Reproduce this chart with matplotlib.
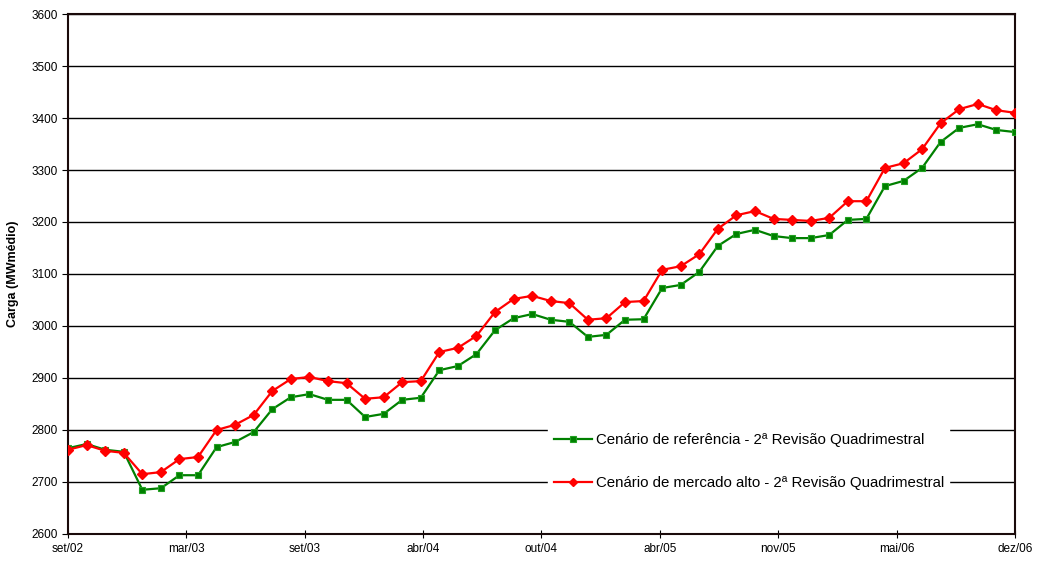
import matplotlib
matplotlib.use("Agg")
from matplotlib import pyplot as plt
import numpy as np

plt.rcParams['font.family'] = ['Liberation Sans', 'DejaVu Sans']

# months set/02 .. dez/06 (52 points)
n_months = 52
months = np.arange(n_months)

# tick labels on the category axis
tick_labels = ["set/02", "mar/03", "set/03", "abr/04", "out/04",
               "abr/05", "nov/05", "mai/06", "dez/06"]

# Cenário de referência
referencia = [2765, 2773, 2762, 2758, 2685, 2688, 2713, 2713, 2767, 2777,
              2796, 2840, 2863, 2869, 2858, 2858, 2825, 2831, 2858, 2862,
              2915, 2923, 2946, 2992, 3015, 3023, 3012, 3008, 2979, 2983,
              3012, 3013, 3073, 3079, 3104, 3154, 3177, 3185, 3173, 3169,
              3169, 3175, 3204, 3206, 3269, 3279, 3304, 3354, 3381, 3388,
              3377, 3373]

# Cenário de mercado alto
mercado_alto = [2762, 2771, 2760, 2756, 2715, 2719, 2744, 2748, 2800, 2810,
                2829, 2875, 2898, 2902, 2894, 2890, 2860, 2863, 2892, 2894,
                2950, 2958, 2981, 3027, 3052, 3058, 3048, 3044, 3012, 3015,
                3046, 3048, 3108, 3115, 3138, 3187, 3213, 3221, 3206, 3204,
                3202, 3208, 3240, 3240, 3304, 3313, 3340, 3390, 3417, 3427,
                3415, 3410]

fig = plt.figure(figsize=(10.42, 5.65), dpi=100)
ax = fig.add_axes([0.0653, 0.0549, 0.9087, 0.9203])

ax.plot(months, referencia, color="#008000", linewidth=1.6, marker="s",
        markersize=5, markerfacecolor="#008000", markeredgecolor="#22a022",
        markeredgewidth=0.8,
        label="Cenário de referência - 2ª Revisão Quadrimestral", zorder=3)
ax.plot(months, mercado_alto, color="#ff0000", linewidth=1.6, marker="D",
        markersize=5.5, markerfacecolor="#ff0000", markeredgecolor="#ff0000",
        label="Cenário de mercado alto - 2ª Revisão Quadrimestral", zorder=4)

ax.set_xlim(0, n_months - 1)
ax.set_ylim(2600, 3600)
ax.set_yticks(np.arange(2600, 3601, 100))
ax.set_xticks(np.linspace(0, n_months - 1, len(tick_labels)))
ax.set_xticklabels(tick_labels)
ax.tick_params(axis="both", labelsize=8.5, colors="black", length=4)
ax.tick_params(axis="x", direction="inout", length=6)

ax.yaxis.grid(True, color="black", linewidth=1)
ax.set_axisbelow(True)
for s in ax.spines.values():
    s.set_color("#1a0a0a")
    s.set_linewidth(1.5)

ax.set_ylabel("Carga (MWmédio)", fontsize=9, fontweight="bold", labelpad=9)

leg = ax.legend(loc="lower left", bbox_to_anchor=(0.507, 0.073, 0.423, 0.144),
                mode="expand", fontsize=10.8, frameon=True, fancybox=False,
                facecolor="white", edgecolor="white", framealpha=1,
                handlelength=2.5, handletextpad=0.3, labelspacing=1.95,
                borderpad=0.4, borderaxespad=0, markerscale=0.8)
leg.set_zorder(5)

plt.savefig("out.png", dpi=100)
